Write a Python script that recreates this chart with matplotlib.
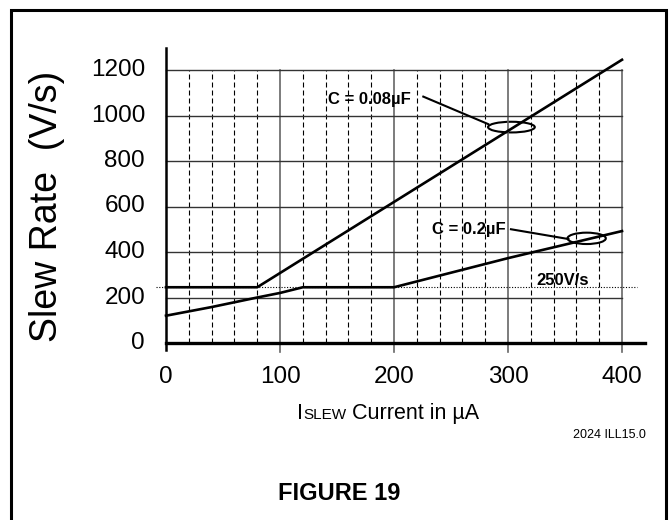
import matplotlib
matplotlib.use("Agg")
import matplotlib.pyplot as plt
from matplotlib.patches import Ellipse, Rectangle

plt.rcParams['font.family'] = ['Liberation Sans', 'DejaVu Sans']

# curve data (current in uA, slew rate in V/s)
c008_x = [0, 80, 400]
c008_y = [245, 245, 1245]
c02_x = [0, 40, 80, 100, 120, 200, 300, 400]
c02_y = [120, 158, 200, 220, 245, 245, 373, 492]

limit_y = 245            # the "250V/s" dotted line
x_major = [100, 200, 300, 400]
x_minor = [v for v in range(20, 400, 20) if v not in x_major]
y_ticks = [0, 200, 400, 600, 800, 1000, 1200]
x_ticks = [0, 100, 200, 300, 400]

fig = plt.figure(figsize=(6.69, 5.2), dpi=100)
W, H = 669.0, 520.0
ax = fig.add_axes([143.2 / W, 1 - 356.65 / H, 513 / W, (356.65 - 47.25) / H])
ax.set_xlim(-20, 430)
ax.set_ylim(-60, 1300)
ax.axis('off')

# grid
for v in x_minor:
    ax.plot([v, v], [0, 1200], color='black', lw=0.8, ls=(0, (4.5, 2.7)))
for v in x_major:
    ax.plot([v, v], [-40, 1200], color='#666666', lw=1.2)
for v in y_ticks[1:]:
    ax.plot([0, 400], [v, v], color='#333333', lw=1.0)

# axes lines
ax.plot([0, 0], [-30, 1297], color='black', lw=1.8)
ax.plot([0, 420], [0, 0], color='black', lw=2.4)

# 250 V/s limit
ax.plot([-9, 413], [limit_y, limit_y], color='black', lw=0.8, ls=(0, (1, 1.5)))
ax.text(348, 253, '250V/s', fontsize=12, fontweight='bold', ha='center', va='baseline')

# curves
ax.plot(c008_x, c008_y, color='black', lw=1.9)
ax.plot(c02_x, c02_y, color='black', lw=1.9)

# annotations
ax.text(142, 1072, 'C = 0.08\u00b5F', fontsize=12, fontweight='bold', ha='left', va='center')
ax.plot([225.7, 282.7], [1083, 962], color='black', lw=1.5)
ax.add_patch(Ellipse((303, 949), 41, 47, fill=False, ec='black', lw=1.5))

ax.text(233, 497, 'C = 0.2\u00b5F', fontsize=12, fontweight='bold', ha='left', va='center')
ax.plot([302.6, 353], [500, 457], color='black', lw=1.5)
ax.add_patch(Ellipse((369, 460), 33.6, 50, fill=False, ec='black', lw=1.5))

# tick labels
for v in y_ticks:
    ax.text(-18.4, v, str(v), fontsize=17.5, ha='right', va='center')
for v in x_ticks:
    ax.text(v, -99, str(v), fontsize=17.5, ha='center', va='top')

# axis labels
fig.text(47 / W, 1 - 206 / H, 'Slew Rate  (V/s)', fontsize=27, rotation=90,
         ha='center', va='center')

# x label with small caps "SLEW", pieces placed on a common baseline
base_y = 1 - 419 / H
x_px = 297.0
renderer = fig.canvas.get_renderer()
for piece, size in [('I', 15.5), ('SLEW', 11), (' Current in \u00b5A', 15.5)]:
    t = fig.text(x_px / W, base_y, piece, fontsize=size, ha='left', va='baseline')
    x_px = t.get_window_extent(renderer).x1

fig.text(646 / W, 1 - 435 / H, '2024 ILL15.0', fontsize=9, ha='right', va='center')
fig.text(338.7 / W, 1 - 494 / H, 'FIGURE 19', fontsize=17, fontweight='bold',
         ha='center', va='center')

# frame around the whole figure
fig.patches.append(Rectangle((10.5 / W, -0.1), (665.8 - 10.5) / W, 1.1 - 9.7 / H,
                             transform=fig.transFigure, fill=False, ec='black', lw=2.2))

fig.savefig('out.png', dpi=100)
